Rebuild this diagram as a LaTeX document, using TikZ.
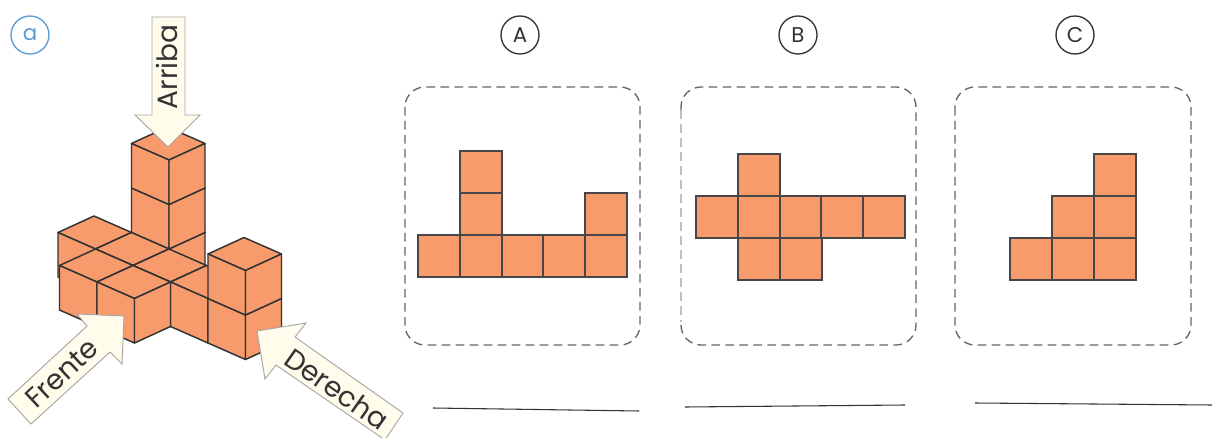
\documentclass[tikz,border=0pt]{standalone}
\usepackage{fontspec}
\setmainfont{Poppins}
\usepackage{xcolor}
\usetikzlibrary{arrows.meta, positioning}
\definecolor{brick}{HTML}{F79A6C}
\definecolor{cream}{HTML}{FFFCEB}
\definecolor{inkline}{HTML}{333333}
\definecolor{ringblue}{HTML}{5B9BD5}
\tikzset{
    cubeface/.style={fill=brick, draw=inkline, line width=1.1pt, line join=round},
    sqcell/.style={fill=brick, draw=black!72, line width=0.9pt},
    pointer/.style={fill=cream, draw=gray!70, line width=0.7pt, line join=miter},
    pointertext/.style={font=\fontsize{21pt}{21pt}\selectfont, text=black!80},
    answerbox/.style={draw=black!60, line width=1pt, dash pattern=on 6.5pt off 4pt, rounded corners=15pt},
    ring/.style={circle, draw=inkline, line width=1pt, minimum size=28.5pt, inner sep=0pt, font=\fontsize{16pt}{16pt}\selectfont, text=inkline},
    blank/.style={draw=inkline, line width=0.8pt},
}
% one cube: cell (i,j) of the floor, level k
\newcommand{\cubeat}[3]{%
    \begin{scope}[shift={({169+(#1)*37.5-(#2)*36},{249+(#1+#2)*16.5-(#3)*44.5})}]
        \draw[cubeface] (0,0) -- (37.5,16.5) -- (1.5,33) -- (-36,16.5) -- cycle;
        \draw[cubeface] (-36,16.5) -- (1.5,33) -- (1.5,77.5) -- (-36,61) -- cycle;
        \draw[cubeface] (37.5,16.5) -- (1.5,33) -- (1.5,77.5) -- (37.5,61) -- cycle;
    \end{scope}}
\begin{document}
\begin{tikzpicture}[x=0.75pt, y=-0.75pt]
    \useasboundingbox (0,0) rectangle (1212,438);
    \fill[white] (0,0) rectangle (1212,438);
    % stacked cubes, back to front
    \foreach \i/\j/\k in {-1/-1/0, -1/-1/1, -1/-1/2, -2/0/0, -1/0/0, -1/1/0, 0/0/0, 1/0/0, 0/1/0, 2/0/0, 2/0/1}
        {\cubeat{\i}{\j}{\k}}
    % pointers
    \draw[pointer] (152,17) -- (185,17) -- (185,115) -- (200,115) -- (168,147) -- (135,115) -- (152,115) -- cycle;
    \node[pointertext, rotate=90] (arriba) at (167,67) {Arriba};
    \draw[pointer] (124,316) -- (122,364) -- (110,352) -- (31,424) -- (8,399) -- (87,326) -- (77,314) -- cycle;
    \node[pointertext, rotate=43] (frente) at (62,373) {Frente};
    \draw[pointer] (257,331) -- (306,323) -- (295,337) -- (403,413) -- (385,440) -- (276,365) -- (265,379) -- cycle;
    \node[pointertext, rotate=-35] (derecha) at (337,389) {Derecha};
    % labels
    \node[ring, draw=ringblue, text=ringblue] (a) at (30,35) {a};
    \node[ring] (optA) at (520,35) {A};
    \node[ring] (optB) at (798,35) {B};
    \node[ring] (optC) at (1075,35) {C};
    % dashed frames
    \draw[answerbox] (405,87) rectangle (640,345);
    \draw[answerbox, draw=black!25] (681,110) -- (681,322);
    \draw[answerbox] (681,110) -- (681,87) -- (916,87) -- (916,345) -- (681,345) -- (681,322);
    \draw[answerbox] (955,87) rectangle (1191,345);
    % option A
    \foreach \x/\y in {418/235, 460/235, 502/235, 543/235, 585/235, 460/193, 460/151, 585/193}
        \draw[sqcell] (\x,\y) rectangle ++(42,42);
    % option B
    \foreach \x/\y in {696/196, 738/196, 780/196, 821/196, 863/196, 738/154, 738/238, 780/238}
        \draw[sqcell] (\x,\y) rectangle ++(42,42);
    % option C
    \foreach \x/\y in {1010/238, 1052/238, 1094/238, 1052/196, 1094/196, 1094/154}
        \draw[sqcell] (\x,\y) rectangle ++(42,42);
    % answer lines
    \coordinate (lineAl) at (433,408);
    \coordinate (lineAr) at (639,411);
    \coordinate (lineBl) at (685,407);
    \coordinate (lineBr) at (905,405);
    \coordinate (lineCl) at (975,403);
    \coordinate (lineCr) at (1212,405);
    \draw[blank] (lineAl) -- (lineAr);
    \draw[blank] (lineBl) -- (lineBr);
    \draw[blank] (lineCl) -- (lineCr);
\end{tikzpicture}
\end{document}
